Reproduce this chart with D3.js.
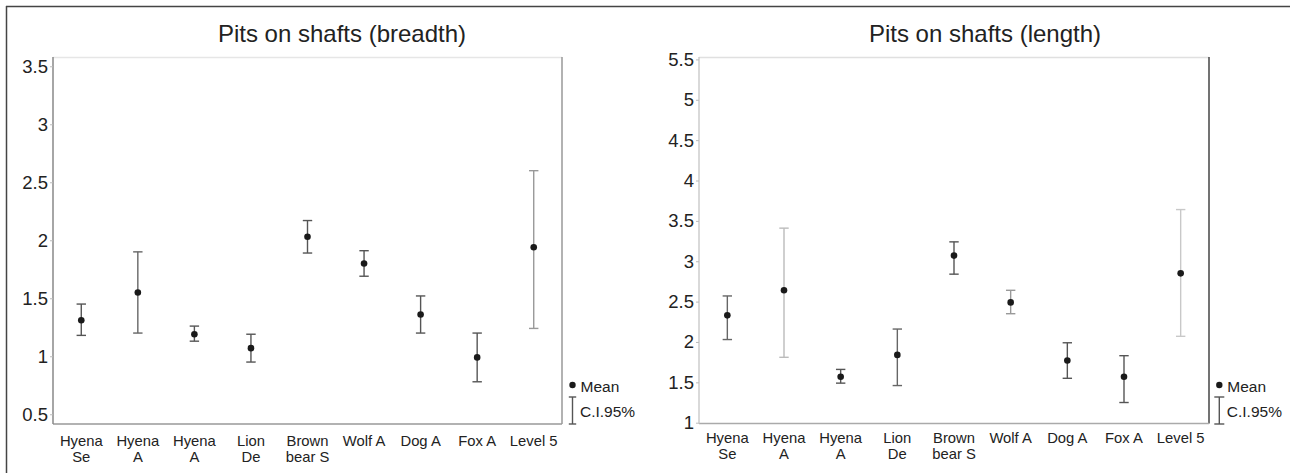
<!DOCTYPE html>
<html><head><meta charset="utf-8">
<script src="https://cdn.jsdelivr.net/npm/d3@7"></script>
<style>body{margin:0;background:#fff;}svg{display:block;font-family:"Liberation Sans",Arial,sans-serif;}</style>
</head><body>
<script>
// ---- data ----
const categories = ["Hyena|Se","Hyena|A","Hyena|A","Lion|De","Brown|bear S","Wolf A","Dog A","Fox A","Level 5"];
const breadthMean  = [1.31, 1.55, 1.19, 1.07, 2.03, 1.80, 1.36, 0.99, 1.94];
const breadthLower = [1.18, 1.20, 1.13, 0.95, 1.89, 1.69, 1.20, 0.78, 1.24];
const breadthUpper = [1.45, 1.90, 1.26, 1.19, 2.17, 1.91, 1.52, 1.20, 2.60];
const lengthMean   = [2.33, 2.64, 1.57, 1.84, 3.07, 2.49, 1.77, 1.57, 2.85];
const lengthLower  = [2.03, 1.81, 1.49, 1.46, 2.84, 2.35, 1.55, 1.25, 2.07];
const lengthUpper  = [2.57, 3.41, 1.66, 2.16, 3.24, 2.64, 1.99, 1.83, 3.64];
const breadthTicks = [0.5, 1, 1.5, 2, 2.5, 3, 3.5];
const lengthTicks  = [1, 1.5, 2, 2.5, 3, 3.5, 4, 4.5, 5, 5.5];

// ---- styles ----
const breadthShade = ["#555","#666","#555","#555","#555","#555","#555","#555","#999"];
const lengthShade  = ["#666","#bbb","#555","#666","#555","#999","#555","#555","#c8c8c8"];

const W = 1290, H = 473;
const svg = d3.select("body").append("svg").attr("width", W).attr("height", H);

// outer frame
svg.append("line").attr("x1",6).attr("x2",W).attr("y1",6.5).attr("y2",6.5).attr("stroke","#444").attr("stroke-width",1.5);
svg.append("line").attr("x1",6.5).attr("x2",6.5).attr("y1",6).attr("y2",H).attr("stroke","#444").attr("stroke-width",1.5);

function panel(cfg){
  const g = svg.append("g");
  const x = d3.scalePoint().domain(d3.range(categories.length)).range([cfg.left, cfg.right]).padding(0.5);
  const y = d3.scaleLinear().domain(cfg.domain).range([cfg.bottom, cfg.top]);

  // frame
  g.append("line").attr("x1",cfg.left).attr("x2",cfg.right).attr("y1",cfg.top+0.5).attr("y2",cfg.top+0.5).attr("stroke",cfg.topCol).attr("stroke-width",1.5);
  g.append("line").attr("x1",cfg.right).attr("x2",cfg.right).attr("y1",cfg.top).attr("y2",cfg.bottom).attr("stroke",cfg.rightCol).attr("stroke-width",1.5);
  g.append("line").attr("x1",cfg.left).attr("x2",cfg.right).attr("y1",cfg.bottom).attr("y2",cfg.bottom).attr("stroke",cfg.bottomCol).attr("stroke-width",1.5);

  // y axis
  const ax = g.append("g").attr("transform",`translate(${cfg.left},0)`)
    .call(d3.axisLeft(y).tickValues(cfg.ticks).tickSize(3).tickPadding(2).tickFormat(d3.format("")));
  ax.select(".domain").attr("stroke",cfg.leftCol).attr("stroke-width",1.5).attr("d",`M0,${cfg.top}V${cfg.bottom}`);
  ax.selectAll(".tick line").attr("stroke","#bbb");
  ax.selectAll(".tick text").attr("fill","#222").style("font-size","18.5px").style("font-family","Liberation Sans, Arial, sans-serif");

  // x labels
  const lab = g.selectAll("text.xl").data(categories).join("text").attr("class","xl")
    .attr("x",(d,i)=>x(i)).attr("y",cfg.bottom+cfg.labOff)
    .attr("text-anchor","middle").attr("fill","#222").style("font-size","14.8px");
  lab.each(function(d){
    const parts = d.split("|");
    const t = d3.select(this);
    parts.forEach((p,k)=>{
      t.append("tspan").attr("x",t.attr("x")).attr("dy",k===0?0:16).text(p);
    });
  });

  // error bars
  const eb = g.selectAll("g.eb").data(cfg.mean.map((m,i)=>({i,m,lo:cfg.lower[i],hi:cfg.upper[i],c:cfg.shade[i]}))).join("g");
  eb.append("line").attr("x1",d=>x(d.i)).attr("x2",d=>x(d.i)).attr("y1",d=>y(d.lo)).attr("y2",d=>y(d.hi)).attr("stroke",d=>d.c).attr("stroke-width",1.4);
  eb.append("line").attr("x1",d=>x(d.i)-4.7).attr("x2",d=>x(d.i)+4.7).attr("y1",d=>y(d.lo)).attr("y2",d=>y(d.lo)).attr("stroke",d=>d.c).attr("stroke-width",1.4);
  eb.append("line").attr("x1",d=>x(d.i)-4.7).attr("x2",d=>x(d.i)+4.7).attr("y1",d=>y(d.hi)).attr("y2",d=>y(d.hi)).attr("stroke",d=>d.c).attr("stroke-width",1.4);
  eb.append("circle").attr("cx",d=>x(d.i)).attr("cy",d=>y(d.m)).attr("r",3.3).attr("fill","#1a1a1a");

  // title
  g.append("text").attr("x",cfg.titleX).attr("y",42).attr("text-anchor","middle").attr("fill","#222").style("font-size","24px").text(cfg.title);

  // legend
  const lx = cfg.legX;
  g.append("circle").attr("cx",lx).attr("cy",385).attr("r",3.2).attr("fill","#1a1a1a");
  g.append("text").attr("x",lx+8).attr("y",392).attr("fill","#222").style("font-size","15.5px").text("Mean");
  g.append("line").attr("x1",lx).attr("x2",lx).attr("y1",397).attr("y2",424).attr("stroke","#555").attr("stroke-width",1.4);
  g.append("line").attr("x1",lx-cfg.capW).attr("x2",lx+cfg.capW).attr("y1",397).attr("y2",397).attr("stroke","#555").attr("stroke-width",1.4);
  g.append("line").attr("x1",lx-cfg.capW).attr("x2",lx+cfg.capW).attr("y1",424).attr("y2",424).attr("stroke","#555").attr("stroke-width",1.4);
  g.append("text").attr("x",lx+7.5).attr("y",417).attr("fill","#222").style("font-size","15.5px").text("C.I.95%");
}

panel({left:53,right:562,top:57,bottom:424,domain:[0.416,3.58],ticks:breadthTicks,
  mean:breadthMean,lower:breadthLower,upper:breadthUpper,shade:breadthShade,
  title:"Pits on shafts (breadth)",titleX:342,labOff:22,legX:572.5,capW:3.7,
  topCol:"#e6e6e6",rightCol:"#999",bottomCol:"#999",leftCol:"#888"});
panel({left:699,right:1209,top:57,bottom:423.5,domain:[0.99,5.53],ticks:lengthTicks,
  mean:lengthMean,lower:lengthLower,upper:lengthUpper,shade:lengthShade,
  title:"Pits on shafts (length)",titleX:985,labOff:19,legX:1219.3,capW:5,
  topCol:"#e0e0e0",rightCol:"#444",bottomCol:"#aaa",leftCol:"#ccc"});
</script>
</body></html>
